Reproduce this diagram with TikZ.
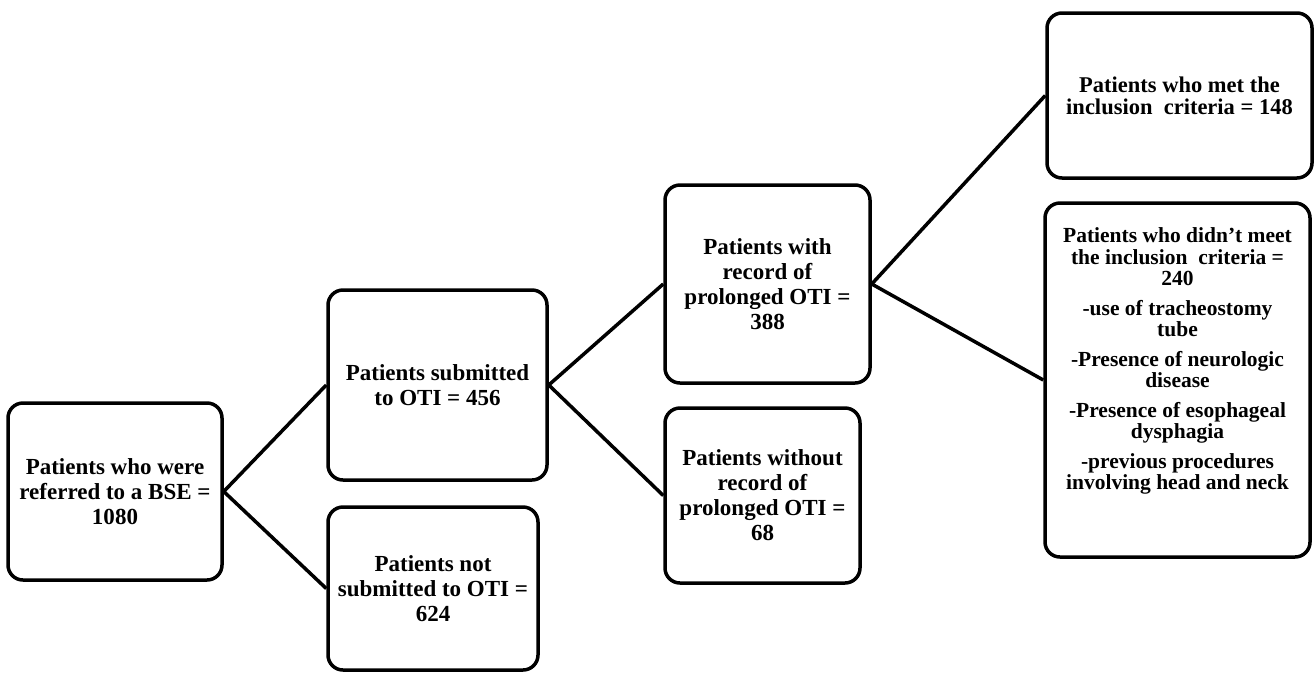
\documentclass[tikz,border=0pt]{standalone}
\usepackage{fontspec}
\setmainfont{Liberation Serif}
\begin{document}
\begin{tikzpicture}[x=1pt,y=-1pt,
  box/.style={draw,line width=3.5pt,rounded corners=15pt,align=center,inner sep=0pt,
    font=\bfseries\fontsize{23}{25}\selectfont},
  rbox/.style={box,font=\bfseries\fontsize{21.5}{21.5}\selectfont}]
\useasboundingbox (0,0) rectangle (1316,673);
\node [box,minimum width=214pt,minimum height=177pt] (referred) at (115,491.5)
  {Patients who were\\referred to a BSE =\\1080};
\node [box,minimum width=219pt,minimum height=190pt] (oti) at (437.5,385)
  {Patients submitted\\to OTI = 456};
\node [box,minimum width=210pt,minimum height=163pt] (nooti) at (433,588.5)
  {Patients not\\submitted to OTI =\\624};
\node [box,minimum width=205pt,minimum height=198pt] (prolonged) at (767.5,284)
  {Patients with\\record of\\prolonged OTI =\\388};
\node [box,minimum width=195pt,minimum height=175pt] (noprolonged) at (762.5,495.5)
  {Patients without\\record of\\prolonged OTI =\\68};
\node [rbox,minimum width=265pt,minimum height=165pt,font=\bfseries\fontsize{22.5}{22}\selectfont]
  (met) at (1179.5,95.5)
  {Patients who met the\\inclusion\ \ criteria = 148};
\node [rbox,minimum width=265pt,minimum height=354pt] (notmet) at (1177.5,380) {};
\node [rbox,draw=none,anchor=north] (notmettext) at ([yshift=-25pt]notmet.north)
  {Patients who didn't meet\\the inclusion\ \ criteria =\\240\\[8pt]
   -use of tracheostomy\\tube\\[8pt]
   -Presence of neurologic\\disease\\[8pt]
   -Presence of esophageal\\dysphagia\\[8pt]
   -previous procedures\\involving head and neck};
\draw [line width=3.5pt] (referred.east) -- (oti.west);
\draw [line width=3.5pt] (referred.east) -- (nooti.west);
\draw [line width=3.5pt] (oti.east) -- (prolonged.west);
\draw [line width=3.5pt] (oti.east) -- (noprolonged.west);
\draw [line width=3.5pt] (prolonged.east) -- (met.west);
\draw [line width=3.5pt] (prolonged.east) -- (notmet.west);
\end{tikzpicture}
\end{document}
